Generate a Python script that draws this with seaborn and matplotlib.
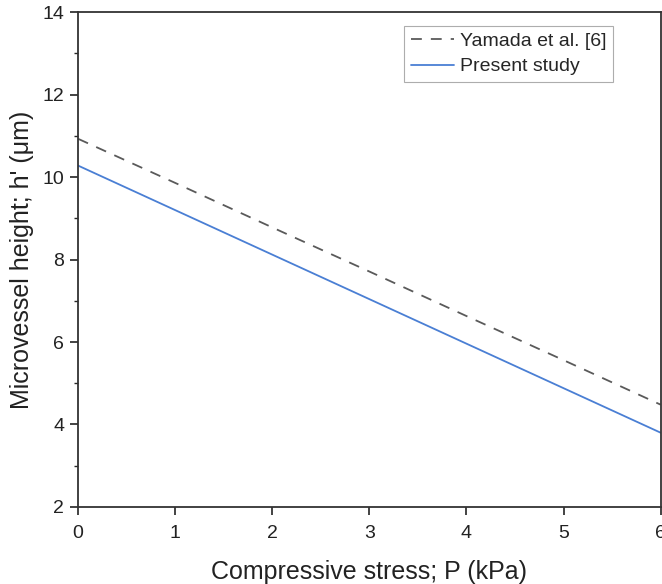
import matplotlib
matplotlib.use("Agg")
import matplotlib.pyplot as plt
import seaborn as sns
import pandas as pd
from matplotlib.ticker import MultipleLocator

stress = [0, 1, 2, 3, 4, 5, 6]
yamada = [10.93, 9.86, 8.78, 7.71, 6.63, 5.56, 4.48]
present = [10.28, 9.20, 8.12, 7.04, 5.96, 4.88, 3.80]

sns.set_theme(style="white")
plt.rcParams['font.family'] = ['Liberation Sans', 'DejaVu Sans']

df = pd.concat([
    pd.DataFrame({"P": stress, "h": yamada, "src": "Yamada et al. [6]"}),
    pd.DataFrame({"P": stress, "h": present, "src": "Present study"}),
])

fig = plt.figure(figsize=(6.62, 5.84), dpi=100)
ax = fig.add_axes([0.118, 0.132, 0.880, 0.847])
sns.lineplot(data=df, x="P", y="h", hue="src", style="src",
             palette={"Yamada et al. [6]": "#5a5a5a", "Present study": "#4a7fd4"},
             dashes={"Yamada et al. [6]": (6, 5), "Present study": ""},
             linewidth=1.3, ax=ax)
ax.set_xlim(0, 6)
ax.set_ylim(2, 14)
ax.xaxis.set_major_locator(MultipleLocator(1))
ax.yaxis.set_major_locator(MultipleLocator(2))
ax.yaxis.set_minor_locator(MultipleLocator(1))
ax.tick_params(axis='both', which='major', direction='out', length=6, width=1.2,
               labelsize=14, colors='#222222', left=True, bottom=True)
ax.tick_params(axis='x', which='major', pad=7)
ax.tick_params(axis='y', which='major', pad=4)
ax.tick_params(axis='y', which='minor', direction='out', length=3, width=1.0, left=True)
for s in ax.spines.values():
    s.set_color('#333333')
    s.set_linewidth(1.3)
ax.set_xlabel("Compressive stress; P (kPa)", fontsize=18, labelpad=13, color='#222222')
ax.set_ylabel("Microvessel height; h' (μm)", fontsize=18, labelpad=6, color='#222222')
leg = ax.legend(loc='upper right', bbox_to_anchor=(0.918, 0.973), fontsize=14,
                frameon=True, fancybox=False, edgecolor='#999999',
                handlelength=2.2, handletextpad=0.3, borderpad=0.35, labelspacing=0.4,
                borderaxespad=0.0)
leg.get_frame().set_linewidth(0.8)
fig.savefig("out.png", dpi=100)
